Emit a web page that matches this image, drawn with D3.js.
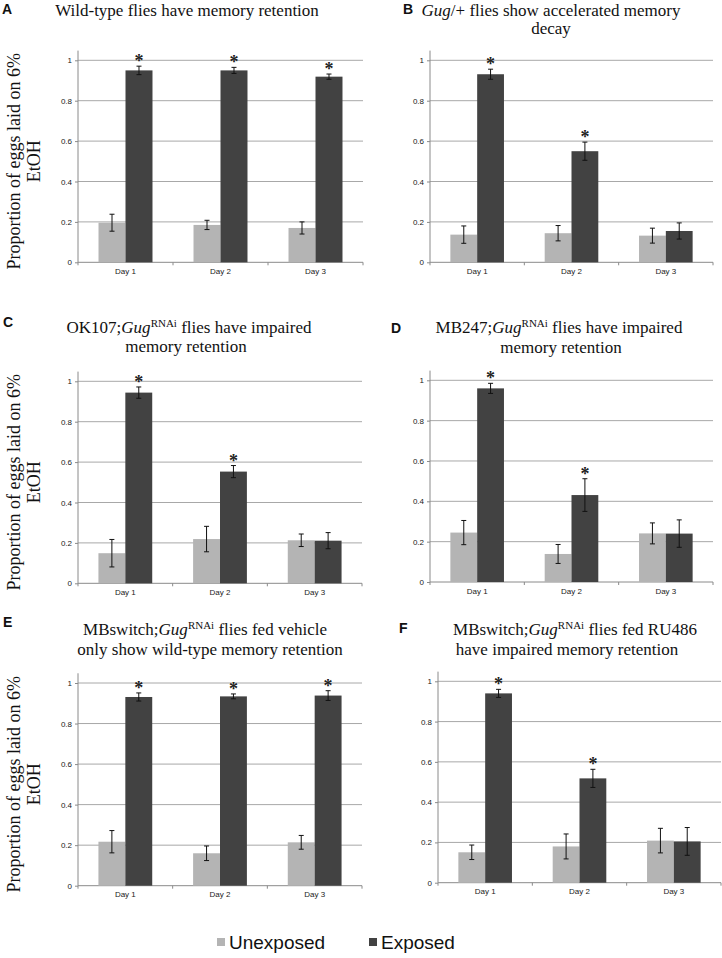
<!DOCTYPE html>
<html>
<head>
<meta charset="utf-8">
<script src="https://cdn.jsdelivr.net/npm/d3@7/dist/d3.min.js"></script>
<style>
  html, body { margin: 0; padding: 0; background: #fff; }
  svg { display: block; }
</style>
</head>
<body>
<svg id="chart" width="722" height="958"></svg>
<script>
// ---------- DATA ----------
const days = ["Day 1", "Day 2", "Day 3"];
const series = ["Unexposed", "Exposed"];
const yTicks = [0, 0.2, 0.4, 0.6, 0.8, 1];

const panelLetters = ["A", "B", "C", "D", "E", "F"];

// values per panel: unexposed (Day1..3), exposed (Day1..3), and error bars
const unexpA = [0.196, 0.185, 0.170];
const expA   = [0.950, 0.950, 0.919];
const unexpErrA = [0.042, 0.023, 0.030];
const expErrA   = [0.021, 0.015, 0.013];
const starsA = [true, true, true];

const unexpB = [0.137, 0.144, 0.132];
const expB   = [0.931, 0.550, 0.155];
const unexpErrB = [0.043, 0.038, 0.037];
const expErrB   = [0.025, 0.045, 0.040];
const starsB = [true, true, false];

const unexpC = [0.149, 0.219, 0.213];
const expC   = [0.944, 0.553, 0.211];
const unexpErrC = [0.068, 0.063, 0.031];
const expErrC   = [0.028, 0.030, 0.040];
const starsC = [true, true, false];

const unexpD = [0.245, 0.139, 0.241];
const expD   = [0.960, 0.431, 0.240];
const unexpErrD = [0.060, 0.047, 0.052];
const expErrD   = [0.025, 0.081, 0.068];
const starsD = [true, true, false];

const unexpE = [0.217, 0.160, 0.214];
const expE   = [0.931, 0.934, 0.938];
const unexpErrE = [0.055, 0.036, 0.034];
const expErrE   = [0.020, 0.012, 0.024];
const starsE = [true, true, true];

const unexpF = [0.151, 0.180, 0.209];
const expF   = [0.940, 0.518, 0.205];
const unexpErrF = [0.036, 0.062, 0.061];
const expErrF   = [0.020, 0.045, 0.069];
const starsF = [true, true, false];

const yLabelLines = ["Proportion of eggs laid on 6%", "EtOH"];

// ---------- LAYOUT ----------
const colors = { "Unexposed": "#b4b4b4", "Exposed": "#424242" };

const panels = [
  { letter: "A", unexp: unexpA, exp: expA, ue: unexpErrA, ee: expErrA, stars: starsA,
    x0: 78, x1: 363, yTop: 60.3, yBase: 262.3, yLabel: true,
    letterPos: [2, 14],
    title: [{ parts: [["Wild-type flies have memory retention", "n"]], x: 187, y: 15.5 }] },
  { letter: "B", unexp: unexpB, exp: expB, ue: unexpErrB, ee: expErrB, stars: starsB,
    x0: 430, x1: 713, yTop: 60.3, yBase: 262.3, yLabel: false,
    letterPos: [403, 14],
    title: [{ parts: [["Gug", "i"], ["/+ flies show accelerated memory", "n"]], x: 551, y: 15.5 },
            { parts: [["decay", "n"]], x: 551, y: 33.5 }] },
  { letter: "C", unexp: unexpC, exp: expC, ue: unexpErrC, ee: expErrC, stars: starsC,
    x0: 78, x1: 362, yTop: 381.3, yBase: 583.3, yLabel: true,
    letterPos: [3, 327],
    title: [{ parts: [["OK107;", "n"], ["Gug", "i"], ["RNAi", "s"], [" flies have impaired", "n"]], x: 189, y: 333 },
            { parts: [["memory retention", "n"]], x: 186, y: 352 }] },
  { letter: "D", unexp: unexpD, exp: expD, ue: unexpErrD, ee: expErrD, stars: starsD,
    x0: 430, x1: 713, yTop: 380.3, yBase: 582, yLabel: false,
    letterPos: [391, 333],
    title: [{ parts: [["MB247;", "n"], ["Gug", "i"], ["RNAi", "s"], [" flies have impaired", "n"]], x: 559, y: 333 },
            { parts: [["memory retention", "n"]], x: 561, y: 353 }] },
  { letter: "E", unexp: unexpE, exp: expE, ue: unexpErrE, ee: expErrE, stars: starsE,
    x0: 78, x1: 362, yTop: 683, yBase: 885.7, yLabel: true,
    letterPos: [3, 627],
    title: [{ parts: [["MBswitch;", "n"], ["Gug", "i"], ["RNAi", "s"], [" flies fed vehicle", "n"]], x: 205, y: 635 },
            { parts: [["only show wild-type memory retention", "n"]], x: 210, y: 655 }] },
  { letter: "F", unexp: unexpF, exp: expF, ue: unexpErrF, ee: expErrF, stars: starsF,
    x0: 438, x1: 721, yTop: 681.3, yBase: 882.7, yLabel: false,
    letterPos: [399, 633],
    title: [{ parts: [["MBswitch;", "n"], ["Gug", "i"], ["RNAi", "s"], [" flies fed RU486", "n"]], x: 575, y: 635 },
            { parts: [["have impaired memory retention", "n"]], x: 567, y: 655 }] }
];

const svg = d3.select("#chart");
const serif = "'Liberation Serif', 'Times New Roman', serif";
const sans = "'Liberation Sans', Arial, sans-serif";

panels.forEach(p => {
  const g = svg.append("g");
  const y = d3.scaleLinear().domain([0, 1]).range([p.yBase, p.yTop]);
  const x = d3.scaleBand().domain(days).range([p.x0, p.x1]).paddingInner(0).paddingOuter(0);
  const xs = d3.scaleBand().domain(series).range([0, x.bandwidth()]).paddingInner(0).paddingOuter(0.76);

  // gridlines
  g.append("g").selectAll("line").data(yTicks.filter(t => t > 0)).join("line")
    .attr("x1", p.x0).attr("x2", p.x1)
    .attr("y1", d => y(d)).attr("y2", d => y(d))
    .attr("stroke", "#a8a8a8").attr("stroke-width", 1);

  // y axis
  const yAxis = d3.axisLeft(y).tickValues(yTicks).tickSize(3).tickPadding(3)
    .tickFormat(d => d === 0 ? "0" : (d === 1 ? "1" : d3.format(".1f")(d)));
  const ya = g.append("g").attr("transform", `translate(${p.x0},0)`).call(yAxis);
  ya.select(".domain").remove();
  ya.selectAll(".tick line").attr("stroke", "#8a8a8a");
  ya.selectAll(".tick text").attr("font-family", sans).attr("font-size", 8).attr("fill", "#222");
  g.append("line").attr("x1", p.x0).attr("x2", p.x0)
    .attr("y1", y(0)).attr("y2", y(1.048)).attr("stroke", "#8a8a8a");

  // x axis
  g.append("line").attr("x1", p.x0).attr("x2", p.x1)
    .attr("y1", y(0)).attr("y2", y(0)).attr("stroke", "#8a8a8a");
  const bounds = days.map(d => x(d)).concat([x(days[days.length - 1]) + x.bandwidth()]);
  g.append("g").selectAll("line").data(bounds).join("line")
    .attr("x1", d => d).attr("x2", d => d)
    .attr("y1", y(0)).attr("y2", y(0) + 3).attr("stroke", "#8a8a8a");
  g.append("g").selectAll("text").data(days).join("text")
    .attr("x", d => x(d) + x.bandwidth() / 2)
    .attr("y", y(0) + 11.5)
    .attr("text-anchor", "middle")
    .attr("font-family", sans).attr("font-size", 8).attr("fill", "#222")
    .text(d => d);

  // bars
  const rows = days.map((d, i) => ({
    day: d,
    vals: [
      { s: "Unexposed", v: p.unexp[i], e: p.ue[i], star: false },
      { s: "Exposed", v: p.exp[i], e: p.ee[i], star: p.stars[i] }
    ]
  }));
  const grp = g.append("g").selectAll("g").data(rows).join("g")
    .attr("transform", d => `translate(${x(d.day)},0)`);
  grp.selectAll("rect").data(d => d.vals).join("rect")
    .attr("x", d => xs(d.s)).attr("width", xs.bandwidth())
    .attr("y", d => y(d.v)).attr("height", d => y(0) - y(d.v))
    .attr("fill", d => colors[d.s]);

  // error bars
  const eb = grp.selectAll("g.err").data(d => d.vals).join("g").attr("class", "err");
  eb.append("line")
    .attr("x1", d => xs(d.s) + xs.bandwidth() / 2).attr("x2", d => xs(d.s) + xs.bandwidth() / 2)
    .attr("y1", d => y(d.v - d.e)).attr("y2", d => y(d.v + d.e))
    .attr("stroke", "#111").attr("stroke-width", 1);
  eb.append("line")
    .attr("x1", d => xs(d.s) + xs.bandwidth() / 2 - 2.5).attr("x2", d => xs(d.s) + xs.bandwidth() / 2 + 2.5)
    .attr("y1", d => y(d.v + d.e)).attr("y2", d => y(d.v + d.e))
    .attr("stroke", "#111").attr("stroke-width", 1);
  eb.append("line")
    .attr("x1", d => xs(d.s) + xs.bandwidth() / 2 - 2.5).attr("x2", d => xs(d.s) + xs.bandwidth() / 2 + 2.5)
    .attr("y1", d => y(d.v - d.e)).attr("y2", d => y(d.v - d.e))
    .attr("stroke", "#111").attr("stroke-width", 1);

  // significance stars
  grp.selectAll("text.star").data(d => d.vals.filter(v => v.star)).join("text")
    .attr("class", "star")
    .attr("x", d => xs(d.s) + xs.bandwidth() / 2)
    .attr("y", d => y(d.v + d.e) + 1)
    .attr("text-anchor", "middle")
    .attr("font-family", serif).attr("font-weight", "bold").attr("font-size", 18).attr("fill", "#222")
    .text("*");

  // panel letter
  g.append("text").attr("x", p.letterPos[0]).attr("y", p.letterPos[1])
    .attr("font-family", sans).attr("font-weight", "bold").attr("font-size", 14).attr("fill", "#111")
    .text(p.letter);

  // title
  p.title.forEach(line => {
    const t = g.append("text").attr("x", line.x).attr("y", line.y)
      .attr("text-anchor", "middle")
      .attr("font-family", serif).attr("font-size", 17).attr("fill", "#111");
    let prevSup = false;
    line.parts.forEach(part => {
      const ts = t.append("tspan").text(part[0]);
      if (part[1] === "i") ts.attr("font-style", "italic");
      if (part[1] === "s") { ts.attr("font-size", 11).attr("dy", -6); }
      else if (prevSup) { ts.attr("dy", 6); }
      prevSup = part[1] === "s";
    });
  });

  // y label
  if (p.yLabel) {
    const cy = (p.yTop + p.yBase) / 2;
    yLabelLines.forEach((txt, i) => {
      g.append("text")
        .attr("transform", `translate(${20 + i * 20},${cy}) rotate(-90)`)
        .attr("text-anchor", "middle")
        .attr("font-family", serif).attr("font-size", 18).attr("fill", "#111")
        .text(txt);
    });
  }
});

// legend
const legend = svg.append("g");
const legendX = [217, 369];
series.forEach((s, i) => {
  legend.append("rect").attr("x", legendX[i]).attr("y", 938).attr("width", 8).attr("height", 8)
    .attr("fill", colors[s]);
  legend.append("text").attr("x", legendX[i] + 12).attr("y", 949)
    .attr("font-family", sans).attr("font-size", 19).attr("fill", "#111")
    .text(s);
});
</script>
</body>
</html>
